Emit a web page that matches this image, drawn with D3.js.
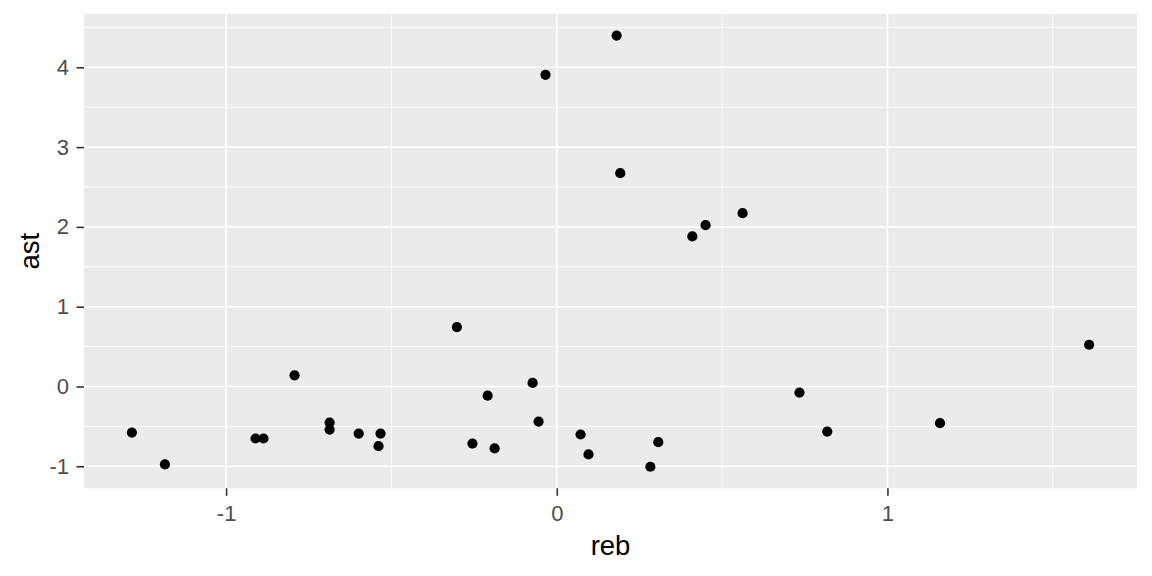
<!DOCTYPE html>
<html>
<head>
<meta charset="utf-8">
<script src="https://cdn.jsdelivr.net/npm/d3@7"></script>
<style>
html,body{margin:0;padding:0;background:#fff;}
text{font-family:"Liberation Sans",Arial,sans-serif;}
</style>
</head>
<body>
<svg id="chart" width="1152" height="576"></svg>
<script>
const reb = [-1.285,-1.185,-0.911,-0.887,-0.793,-0.687,-0.687,-0.599,-0.533,-0.539,
  -0.302,-0.209,-0.255,-0.188,-0.073,-0.055,-0.034,0.181,0.192,0.072,
  0.096,0.307,0.283,0.410,0.450,0.562,0.734,0.818,1.159,1.610];
const ast = [-0.578,-0.977,-0.652,-0.652,0.140,-0.452,-0.540,-0.590,-0.590,-0.748,
  0.744,-0.115,-0.715,-0.777,0.044,-0.440,3.906,4.398,2.673,-0.602,
  -0.852,-0.698,-1.006,1.881,2.021,2.172,-0.077,-0.565,-0.460,0.523];
const xTicks = [-1,0,1];
const xMinor = [-1.5,-0.5,0.5,1.5];
const yTicks = [-1,0,1,2,3,4];
const yMinor = [-1.5,-0.5,0.5,1.5,2.5,3.5,4.5];
const xLabel = "reb", yLabel = "ast";

const svg = d3.select("#chart");
const L = 84, R = 1137, T = 14, B = 488.3;

function expand(vals){
  const [a,b] = d3.extent(vals); const r = b - a;
  return [a - 0.05*r, b + 0.05*r];
}
const x = d3.scaleLinear().domain(expand(reb)).range([L,R]);
const y = d3.scaleLinear().domain(expand(ast)).range([B,T]);

svg.append("rect").attr("x",L).attr("y",T).attr("width",R-L).attr("height",B-T).attr("fill","#EBEBEB");

const [xd0,xd1] = x.domain(), [yd0,yd1] = y.domain();
const g = svg.append("g");
g.selectAll(".xmin").data(xMinor.filter(v=>v>=xd0&&v<=xd1)).enter().append("line")
  .attr("x1",d=>x(d)).attr("x2",d=>x(d)).attr("y1",T).attr("y2",B)
  .attr("stroke","#fff").attr("stroke-width",0.8);
g.selectAll(".ymin").data(yMinor.filter(v=>v>=yd0&&v<=yd1)).enter().append("line")
  .attr("y1",d=>y(d)).attr("y2",d=>y(d)).attr("x1",L).attr("x2",R)
  .attr("stroke","#fff").attr("stroke-width",0.8);
g.selectAll(".xmaj").data(xTicks).enter().append("line")
  .attr("x1",d=>x(d)).attr("x2",d=>x(d)).attr("y1",T).attr("y2",B)
  .attr("stroke","#fff").attr("stroke-width",1.6);
g.selectAll(".ymaj").data(yTicks).enter().append("line")
  .attr("y1",d=>y(d)).attr("y2",d=>y(d)).attr("x1",L).attr("x2",R)
  .attr("stroke","#fff").attr("stroke-width",1.6);

// axes
const xAxis = d3.axisBottom(x).tickValues(xTicks).tickSize(7.5).tickPadding(10).tickFormat(d3.format("d"));
const yAxis = d3.axisLeft(y).tickValues(yTicks).tickSize(7.5).tickPadding(7.5).tickFormat(d3.format("d"));
const gx = svg.append("g").attr("transform",`translate(0,${B})`).call(xAxis);
const gy = svg.append("g").attr("transform",`translate(${L},0)`).call(yAxis);
[gx,gy].forEach(a=>{
  a.select(".domain").remove();
  a.selectAll(".tick line").attr("stroke","#333333").attr("stroke-width",1.6);
  a.selectAll(".tick text").attr("fill","#4D4D4D").style("font-size","22px")
   .text(d=>d<0?"-"+Math.abs(d):String(d));
});

// points
svg.append("g").selectAll("circle").data(reb.map((v,i)=>[v,ast[i]])).enter().append("circle")
  .attr("cx",d=>x(d[0])).attr("cy",d=>y(d[1])).attr("r",5.1).attr("fill","#000");

svg.append("text").attr("x",(L+R)/2).attr("y",555).attr("text-anchor","middle")
  .style("font-size","27.5px").attr("fill","#000").text(xLabel);
svg.append("text").attr("transform",`translate(38.5,${(T+B)/2}) rotate(-90)`).attr("text-anchor","middle")
  .style("font-size","27.5px").attr("fill","#000").text(yLabel);
</script>
</body>
</html>
